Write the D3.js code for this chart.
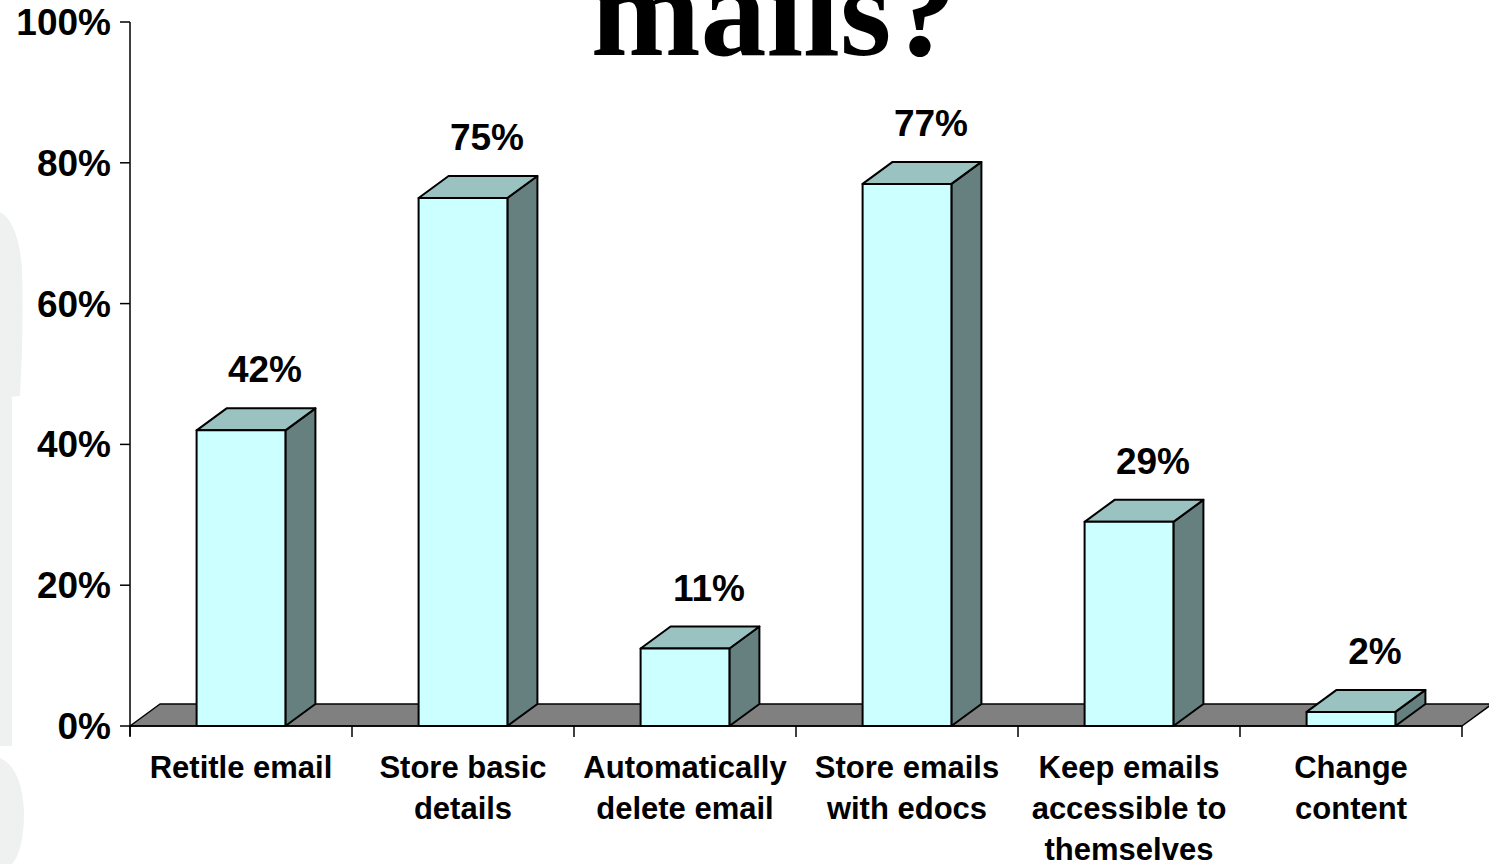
<!DOCTYPE html>
<html>
<head>
<meta charset="utf-8">
<script src="https://cdn.jsdelivr.net/npm/d3@7"></script>
<style>
  html, body { margin: 0; padding: 0; background: #fff; overflow: hidden; }
  svg { display: block; }
  text { font-family: "Liberation Sans", Arial, sans-serif; font-weight: bold; fill: #000; }
</style>
</head>
<body>
<svg id="chart" width="1489" height="864"></svg>
<script>
// data
var categories = ["Retitle email", "Store basic details", "Automatically delete email",
                  "Store emails with edocs", "Keep emails accessible to themselves", "Change content"];
var labelLines = [["Retitle email"], ["Store basic", "details"], ["Automatically", "delete email"],
                  ["Store emails", "with edocs"], ["Keep emails", "accessible to", "themselves"], ["Change", "content"]];
var values = [42, 75, 11, 77, 29, 2];
var yTicks = [0, 20, 40, 60, 80, 100];

var width = 1489, height = 864;
var dx = 30, dy = 22; // 3d depth offset

var svg = d3.select("#chart");

// faint watermark at left edge
var wm = svg.append("g").attr("fill", "#eff1f1");
wm.append("path").attr("d", "M0,212 Q18,222 22,268 Q24,330 20,396 L0,398 Z");
wm.append("rect").attr("x", 0).attr("y", 396).attr("width", 12).attr("height", 350);
wm.append("path").attr("d", "M0,758 Q22,768 24,812 Q24,850 12,864 L0,864 Z");

var x = d3.scaleBand().domain(categories).range([130, 1462]).padding(0);
var y = d3.scaleLinear().domain([0, 100]).range([726, 22]);
var barW = x.bandwidth() * 0.4;

// title (only the last line shows)
svg.append("text")
  .attr("x", 774).attr("y", 55)
  .attr("text-anchor", "middle")
  .style("font-family", "'Liberation Serif', 'Times New Roman', serif")
  .style("font-size", "132px")
  .text("mails?");

// floor
var x0 = x.range()[0], x1 = x.range()[1], y0 = y(0);
svg.append("path")
  .attr("d", "M" + x0 + "," + y0 + "L" + x1 + "," + y0 + "L" + (x1 + dx) + "," + (y0 - dy) +
             "L" + (x0 + dx) + "," + (y0 - dy) + "Z")
  .attr("fill", "#808080").attr("stroke", "#000").attr("stroke-width", 1.5)
  .attr("stroke-linejoin", "round");

// y axis
svg.append("line").attr("x1", x0).attr("x2", x0).attr("y1", y(100)).attr("y2", y0 + 10)
  .attr("stroke", "#000").attr("stroke-width", 1.5);
svg.selectAll(".ytick").data(yTicks).enter().append("line")
  .attr("x1", x0 - 10).attr("x2", x0).attr("y1", function(d){ return y(d); }).attr("y2", function(d){ return y(d); })
  .attr("stroke", "#000").attr("stroke-width", 1.5);
svg.selectAll(".ylab").data(yTicks).enter().append("text")
  .attr("x", x0 - 19).attr("y", function(d){ return y(d) + 13; })
  .attr("text-anchor", "end")
  .style("font-size", "37px")
  .text(function(d){ return d + "%"; });

// x axis line + ticks
svg.append("line").attr("x1", x0).attr("x2", x1).attr("y1", y0).attr("y2", y0)
  .attr("stroke", "#000").attr("stroke-width", 1.5);
var bounds = categories.map(function(c){ return x(c); }).concat([x1]);
svg.selectAll(".xtick").data(bounds).enter().append("line")
  .attr("x1", function(d){ return d; }).attr("x2", function(d){ return d; })
  .attr("y1", y0).attr("y2", y0 + 11)
  .attr("stroke", "#000").attr("stroke-width", 1.5);

// bars
var bars = svg.selectAll(".bar").data(values).enter().append("g");
bars.each(function(v, i) {
  var g = d3.select(this);
  var cx = x(categories[i]) + x.bandwidth() / 2;
  var l = cx - barW / 2, r = cx + barW / 2, t = y(v), b = y(0);
  g.append("path") // side
    .attr("d", "M" + r + "," + b + "L" + (r + dx) + "," + (b - dy) + "L" + (r + dx) + "," + (t - dy) + "L" + r + "," + t + "Z")
    .attr("fill", "#668080");
  g.append("path") // top
    .attr("d", "M" + l + "," + t + "L" + (l + dx) + "," + (t - dy) + "L" + (r + dx) + "," + (t - dy) + "L" + r + "," + t + "Z")
    .attr("fill", "#99c2c0");
  g.append("rect") // front
    .attr("x", l).attr("y", t).attr("width", barW).attr("height", b - t)
    .attr("fill", "#ccffff");
  g.selectAll("path, rect").attr("stroke", "#000").attr("stroke-width", 2).attr("stroke-linejoin", "round");
  g.append("text")
    .attr("x", cx + 24).attr("y", t - dy - 26)
    .attr("text-anchor", "middle")
    .style("font-size", "37px")
    .text(v + "%");
});

// category labels
svg.selectAll(".xlab").data(categories).enter().append("text")
  .attr("text-anchor", "middle")
  .style("font-size", "31px")
  .each(function(c, i) {
    var t = d3.select(this);
    labelLines[i].forEach(function(line, j) {
      t.append("tspan")
        .attr("x", x(c) + x.bandwidth() / 2)
        .attr("y", 778 + j * 41)
        .text(line);
    });
  });
</script>
</body>
</html>
